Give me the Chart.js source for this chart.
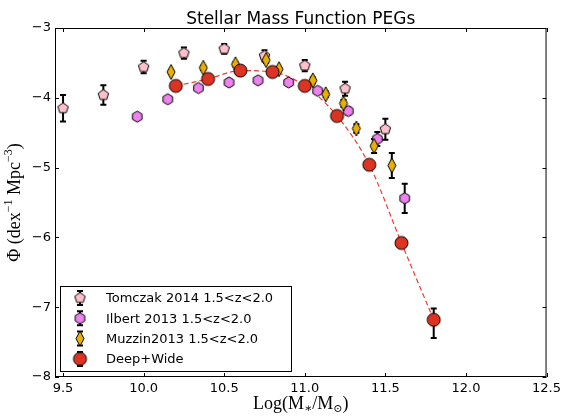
<!DOCTYPE html>
<html>
<head>
<meta charset="utf-8">
<title>Stellar Mass Function PEGs</title>
<script src="https://cdn.jsdelivr.net/npm/chart.js@4.4.1/dist/chart.umd.min.js"></script>
<style>
    html, body { margin: 0; padding: 0; background: #fff; }
    #wrap { width: 565px; height: 416px; }
</style>
</head>
<body>
<div id="wrap"><canvas id="smf-chart" width="565" height="416"></canvas></div>
<script>
// Axis ticks
const xTicks = [9.5, 10.0, 10.5, 11.0, 11.5, 12.0, 12.5];
const yTicks = [-8, -7, -6, -5, -4, -3];

// Tomczak 2014, 1.5<z<2.0
const tomczakMass = [9.5, 9.75, 10.0, 10.25, 10.5, 10.75, 11.0, 11.25, 11.5];
const tomczakPhi  = [-4.15, -3.96, -3.56, -3.36, -3.30, -3.40, -3.54, -3.87, -4.45];
const tomczakErr  = [0.19, 0.14, 0.09, 0.08, 0.07, 0.08, 0.08, 0.10, 0.15];

// Ilbert 2013, 1.5<z<2.0
const ilbertMass = [9.96, 10.15, 10.34, 10.53, 10.71, 10.90, 11.08, 11.27, 11.45, 11.62];
const ilbertPhi  = [-4.27, -4.02, -3.86, -3.78, -3.75, -3.78, -3.90, -4.19, -4.59, -5.44];
const ilbertErr  = [0.02, 0.02, 0.02, 0.02, 0.03, 0.03, 0.04, 0.05, 0.10, 0.21];

// Muzzin 2013, 1.5<z<2.0
const muzzinMass = [10.17, 10.37, 10.57, 10.76, 10.84, 11.05, 11.13, 11.24, 11.32, 11.43, 11.54];
const muzzinPhi  = [-3.63, -3.57, -3.52, -3.46, -3.59, -3.75, -3.95, -4.08, -4.44, -4.69, -4.97];
const muzzinErr  = [0.03, 0.03, 0.03, 0.04, 0.03, 0.04, 0.04, 0.05, 0.06, 0.10, 0.18];

// Deep+Wide
const deepMass    = [10.2, 10.4, 10.6, 10.8, 11.0, 11.2, 11.4, 11.6, 11.8];
const deepPhi     = [-3.83, -3.73, -3.61, -3.63, -3.83, -4.26, -4.96, -6.08, -7.18];
const deepErrUp   = [0.02, 0.02, 0.02, 0.02, 0.02, 0.03, 0.04, 0.06, 0.16];
const deepErrDown = [0.02, 0.02, 0.02, 0.02, 0.02, 0.03, 0.04, 0.06, 0.26];

const FONT = 'DejaVu Sans';
const SERIF = '"Liberation Serif", "DejaVu Serif", serif';

// Build marker images (pentagon, hexagon, thin diamond, circle)
function makeMarker(kind, fill, rx, ry) {
    const pad = 2;
    const c = document.createElement('canvas');
    c.width = Math.ceil(rx * 2 + pad * 2);
    c.height = Math.ceil(ry * 2 + pad * 2);
    const g = c.getContext('2d');
    const cx = c.width / 2, cy = c.height / 2;
    g.beginPath();
    if (kind === 'circle') {
        g.arc(cx, cy, rx, 0, Math.PI * 2);
    } else if (kind === 'diamond') {
        g.moveTo(cx, cy - ry);
        g.lineTo(cx + rx, cy);
        g.lineTo(cx, cy + ry);
        g.lineTo(cx - rx, cy);
        g.closePath();
    } else {
        const n = kind === 'pentagon' ? 5 : 6;
        for (let i = 0; i < n; i++) {
            const a = -Math.PI / 2 + i * 2 * Math.PI / n;
            const px = cx + rx * Math.cos(a), py = cy + ry * Math.sin(a);
            if (i === 0) g.moveTo(px, py); else g.lineTo(px, py);
        }
        g.closePath();
    }
    g.fillStyle = fill;
    g.fill();
    g.lineWidth = 1;
    g.strokeStyle = '#000';
    g.stroke();
    return c;
}

const pentagonImg = makeMarker('pentagon', '#ffc0cb', 5.5, 5.5);
const hexagonImg = makeMarker('hexagon', '#ee82ee', 5.5, 5.5);
const diamondImg = makeMarker('diamond', '#e8b000', 4, 7.5);
const circleImg = makeMarker('circle', '#dd3322', 6.5, 6.5);

function toPoints(xs, ys) {
    return xs.map((x, i) => ({ x: x, y: ys[i] }));
}

// Error bars, drawn below the markers
const errorBarPlugin = {
    id: 'errorBars',
    beforeDatasetsDraw(chart) {
        const ctx = chart.ctx;
        const xs = chart.scales.x, ys = chart.scales.y;
        ctx.save();
        ctx.beginPath();
        ctx.rect(chart.chartArea.left, chart.chartArea.top, chart.chartArea.width, chart.chartArea.height);
        ctx.clip();
        ctx.strokeStyle = '#000';
        ctx.lineWidth = 2;
        chart.data.datasets.forEach(ds => {
            if (!ds.errUp) return;
            ds.data.forEach((p, i) => {
                const px = xs.getPixelForValue(p.x);
                const top = ys.getPixelForValue(p.y + ds.errUp[i]);
                const bot = ys.getPixelForValue(p.y - ds.errDown[i]);
                ctx.beginPath();
                ctx.moveTo(px, top);
                ctx.lineTo(px, bot);
                ctx.moveTo(px - 3, top);
                ctx.lineTo(px + 3, top);
                ctx.moveTo(px - 3, bot);
                ctx.lineTo(px + 3, bot);
                ctx.stroke();
            });
        });
        ctx.restore();
    }
};

// Draw a run of text pieces with sub/superscripts, centred on x
function drawRich(ctx, parts, x, y) {
    let total = 0;
    parts.forEach(p => {
        ctx.font = p.size + 'px ' + SERIF;
        p.w = ctx.measureText(p.t).width;
        total += p.w;
    });
    let cx = x - total / 2;
    ctx.textAlign = 'left';
    ctx.textBaseline = 'alphabetic';
    parts.forEach(p => {
        ctx.font = p.size + 'px ' + SERIF;
        ctx.fillText(p.t, cx, y + (p.dy || 0));
        cx += p.w;
    });
}

// Frame, inward ticks, title, axis titles and legend
const decorPlugin = {
    id: 'decor',
    afterDraw(chart) {
        const ctx = chart.ctx;
        const a = chart.chartArea;
        const xs = chart.scales.x, ys = chart.scales.y;
        ctx.save();
        ctx.strokeStyle = '#000';
        ctx.lineWidth = 1;
        ctx.strokeRect(a.left + 0.5, a.top + 0.5, a.width - 1, a.height - 1);

        ctx.beginPath();
        xTicks.forEach(v => {
            const px = Math.round(xs.getPixelForValue(v)) + 0.5;
            ctx.moveTo(px, a.bottom); ctx.lineTo(px, a.bottom - 4);
            ctx.moveTo(px, a.top); ctx.lineTo(px, a.top + 4);
        });
        yTicks.forEach(v => {
            const py = Math.round(ys.getPixelForValue(v)) + 0.5;
            ctx.moveTo(a.left, py); ctx.lineTo(a.left + 4, py);
            ctx.moveTo(a.right, py); ctx.lineTo(a.right - 4, py);
        });
        ctx.stroke();

        // Title
        ctx.fillStyle = '#000';
        ctx.font = '17px ' + FONT;
        ctx.textAlign = 'center';
        ctx.textBaseline = 'alphabetic';
        ctx.fillText('Stellar Mass Function PEGs', (a.left + a.right) / 2, 24);

        // X axis title
        drawRich(ctx, [
            { t: 'Log(M', size: 18 },
            { t: '\u2217', size: 12, dy: 3 },
            { t: '/M', size: 18 },
            { t: '\u2299', size: 11, dy: 3 },
            { t: ')', size: 18 }
        ], (a.left + a.right) / 2, 409);

        // Y axis title
        ctx.save();
        ctx.translate(20, (a.top + a.bottom) / 2);
        ctx.rotate(-Math.PI / 2);
        drawRich(ctx, [
            { t: '\u03a6 (dex', size: 18 },
            { t: '\u22121', size: 12, dy: -8 },
            { t: ' Mpc', size: 18 },
            { t: '\u22123', size: 12, dy: -8 },
            { t: ')', size: 18 }
        ], 0, 0);
        ctx.restore();

        // Legend
        const lx = 60, ly = 286, lw = 231, lh = 85;
        ctx.fillStyle = '#fff';
        ctx.fillRect(lx, ly, lw, lh);
        ctx.strokeStyle = '#000';
        ctx.lineWidth = 1;
        ctx.strokeRect(lx + 0.5, ly + 0.5, lw, lh);
        const entries = [
            { img: pentagonImg, label: 'Tomczak 2014 1.5<z<2.0' },
            { img: hexagonImg, label: 'Ilbert 2013 1.5<z<2.0' },
            { img: diamondImg, label: 'Muzzin2013 1.5<z<2.0' },
            { img: circleImg, label: 'Deep+Wide' }
        ];
        ctx.font = '13px ' + FONT;
        ctx.textAlign = 'left';
        ctx.textBaseline = 'middle';
        entries.forEach((e, i) => {
            const my = ly + 12 + i * 20.3;
            const mx = lx + 20;
            ctx.strokeStyle = '#000';
            ctx.lineWidth = 2;
            ctx.beginPath();
            ctx.moveTo(mx, my - 7); ctx.lineTo(mx, my + 7);
            ctx.moveTo(mx - 3, my - 7); ctx.lineTo(mx + 3, my - 7);
            ctx.moveTo(mx - 3, my + 7); ctx.lineTo(mx + 3, my + 7);
            ctx.stroke();
            ctx.drawImage(e.img, mx - e.img.width / 2, my - e.img.height / 2);
            ctx.fillStyle = '#000';
            ctx.fillText(e.label, lx + 46, my + 1);
        });
        ctx.restore();
    }
};

const ctx = document.getElementById('smf-chart').getContext('2d');
window.smfChart = new Chart(ctx, {
    type: 'scatter',
    data: {
        datasets: [{
            label: 'Deep+Wide',
            data: toPoints(deepMass, deepPhi),
            errUp: deepErrUp,
            errDown: deepErrDown,
            pointStyle: circleImg,
            pointRadius: 6,
            order: 1
        }, {
            label: 'Muzzin2013 1.5<z<2.0',
            data: toPoints(muzzinMass, muzzinPhi),
            errUp: muzzinErr,
            errDown: muzzinErr,
            pointStyle: diamondImg,
            pointRadius: 6,
            order: 2
        }, {
            label: 'Ilbert 2013 1.5<z<2.0',
            data: toPoints(ilbertMass, ilbertPhi),
            errUp: ilbertErr,
            errDown: ilbertErr,
            pointStyle: hexagonImg,
            pointRadius: 6,
            order: 3
        }, {
            label: 'Tomczak 2014 1.5<z<2.0',
            data: toPoints(tomczakMass, tomczakPhi),
            errUp: tomczakErr,
            errDown: tomczakErr,
            pointStyle: pentagonImg,
            pointRadius: 6,
            order: 4
        }, {
            // dashed curve through the Deep+Wide points
            label: 'fit',
            type: 'line',
            data: toPoints(deepMass, deepPhi),
            showLine: true,
            borderColor: '#f03c32',
            borderWidth: 1.2,
            borderDash: [5, 3],
            pointRadius: 0,
            cubicInterpolationMode: 'monotone',
            fill: false,
            order: 5
        }]
    },
    options: {
        responsive: false,
        animation: false,
        events: [],
        layout: { padding: { left: 0, right: 16, top: 28, bottom: 0 } },
        plugins: {
            legend: { display: false },
            title: { display: false },
            tooltip: { enabled: false }
        },
        scales: {
            x: {
                type: 'linear',
                min: 9.45,
                max: 12.5,
                afterBuildTicks: s => { s.ticks = xTicks.map(v => ({ value: v })); },
                afterFit: s => { s.height = 39; },
                grid: { display: false, drawTicks: false },
                border: { display: false },
                ticks: {
                    callback: v => v.toFixed(1),
                    color: '#000',
                    font: { family: FONT, size: 13 },
                    padding: 4,
                    maxRotation: 0,
                    autoSkip: false
                }
            },
            y: {
                type: 'linear',
                min: -8,
                max: -3,
                afterBuildTicks: s => { s.ticks = yTicks.map(v => ({ value: v })); },
                afterFit: s => { s.width = 55; },
                grid: { display: false, drawTicks: false },
                border: { display: false },
                ticks: {
                    callback: v => (v < 0 ? '\u2212' : '') + Math.abs(v),
                    color: '#000',
                    font: { family: FONT, size: 13 },
                    padding: 4
                }
            }
        }
    },
    plugins: [errorBarPlugin, decorPlugin]
});
</script>
</body>
</html>
